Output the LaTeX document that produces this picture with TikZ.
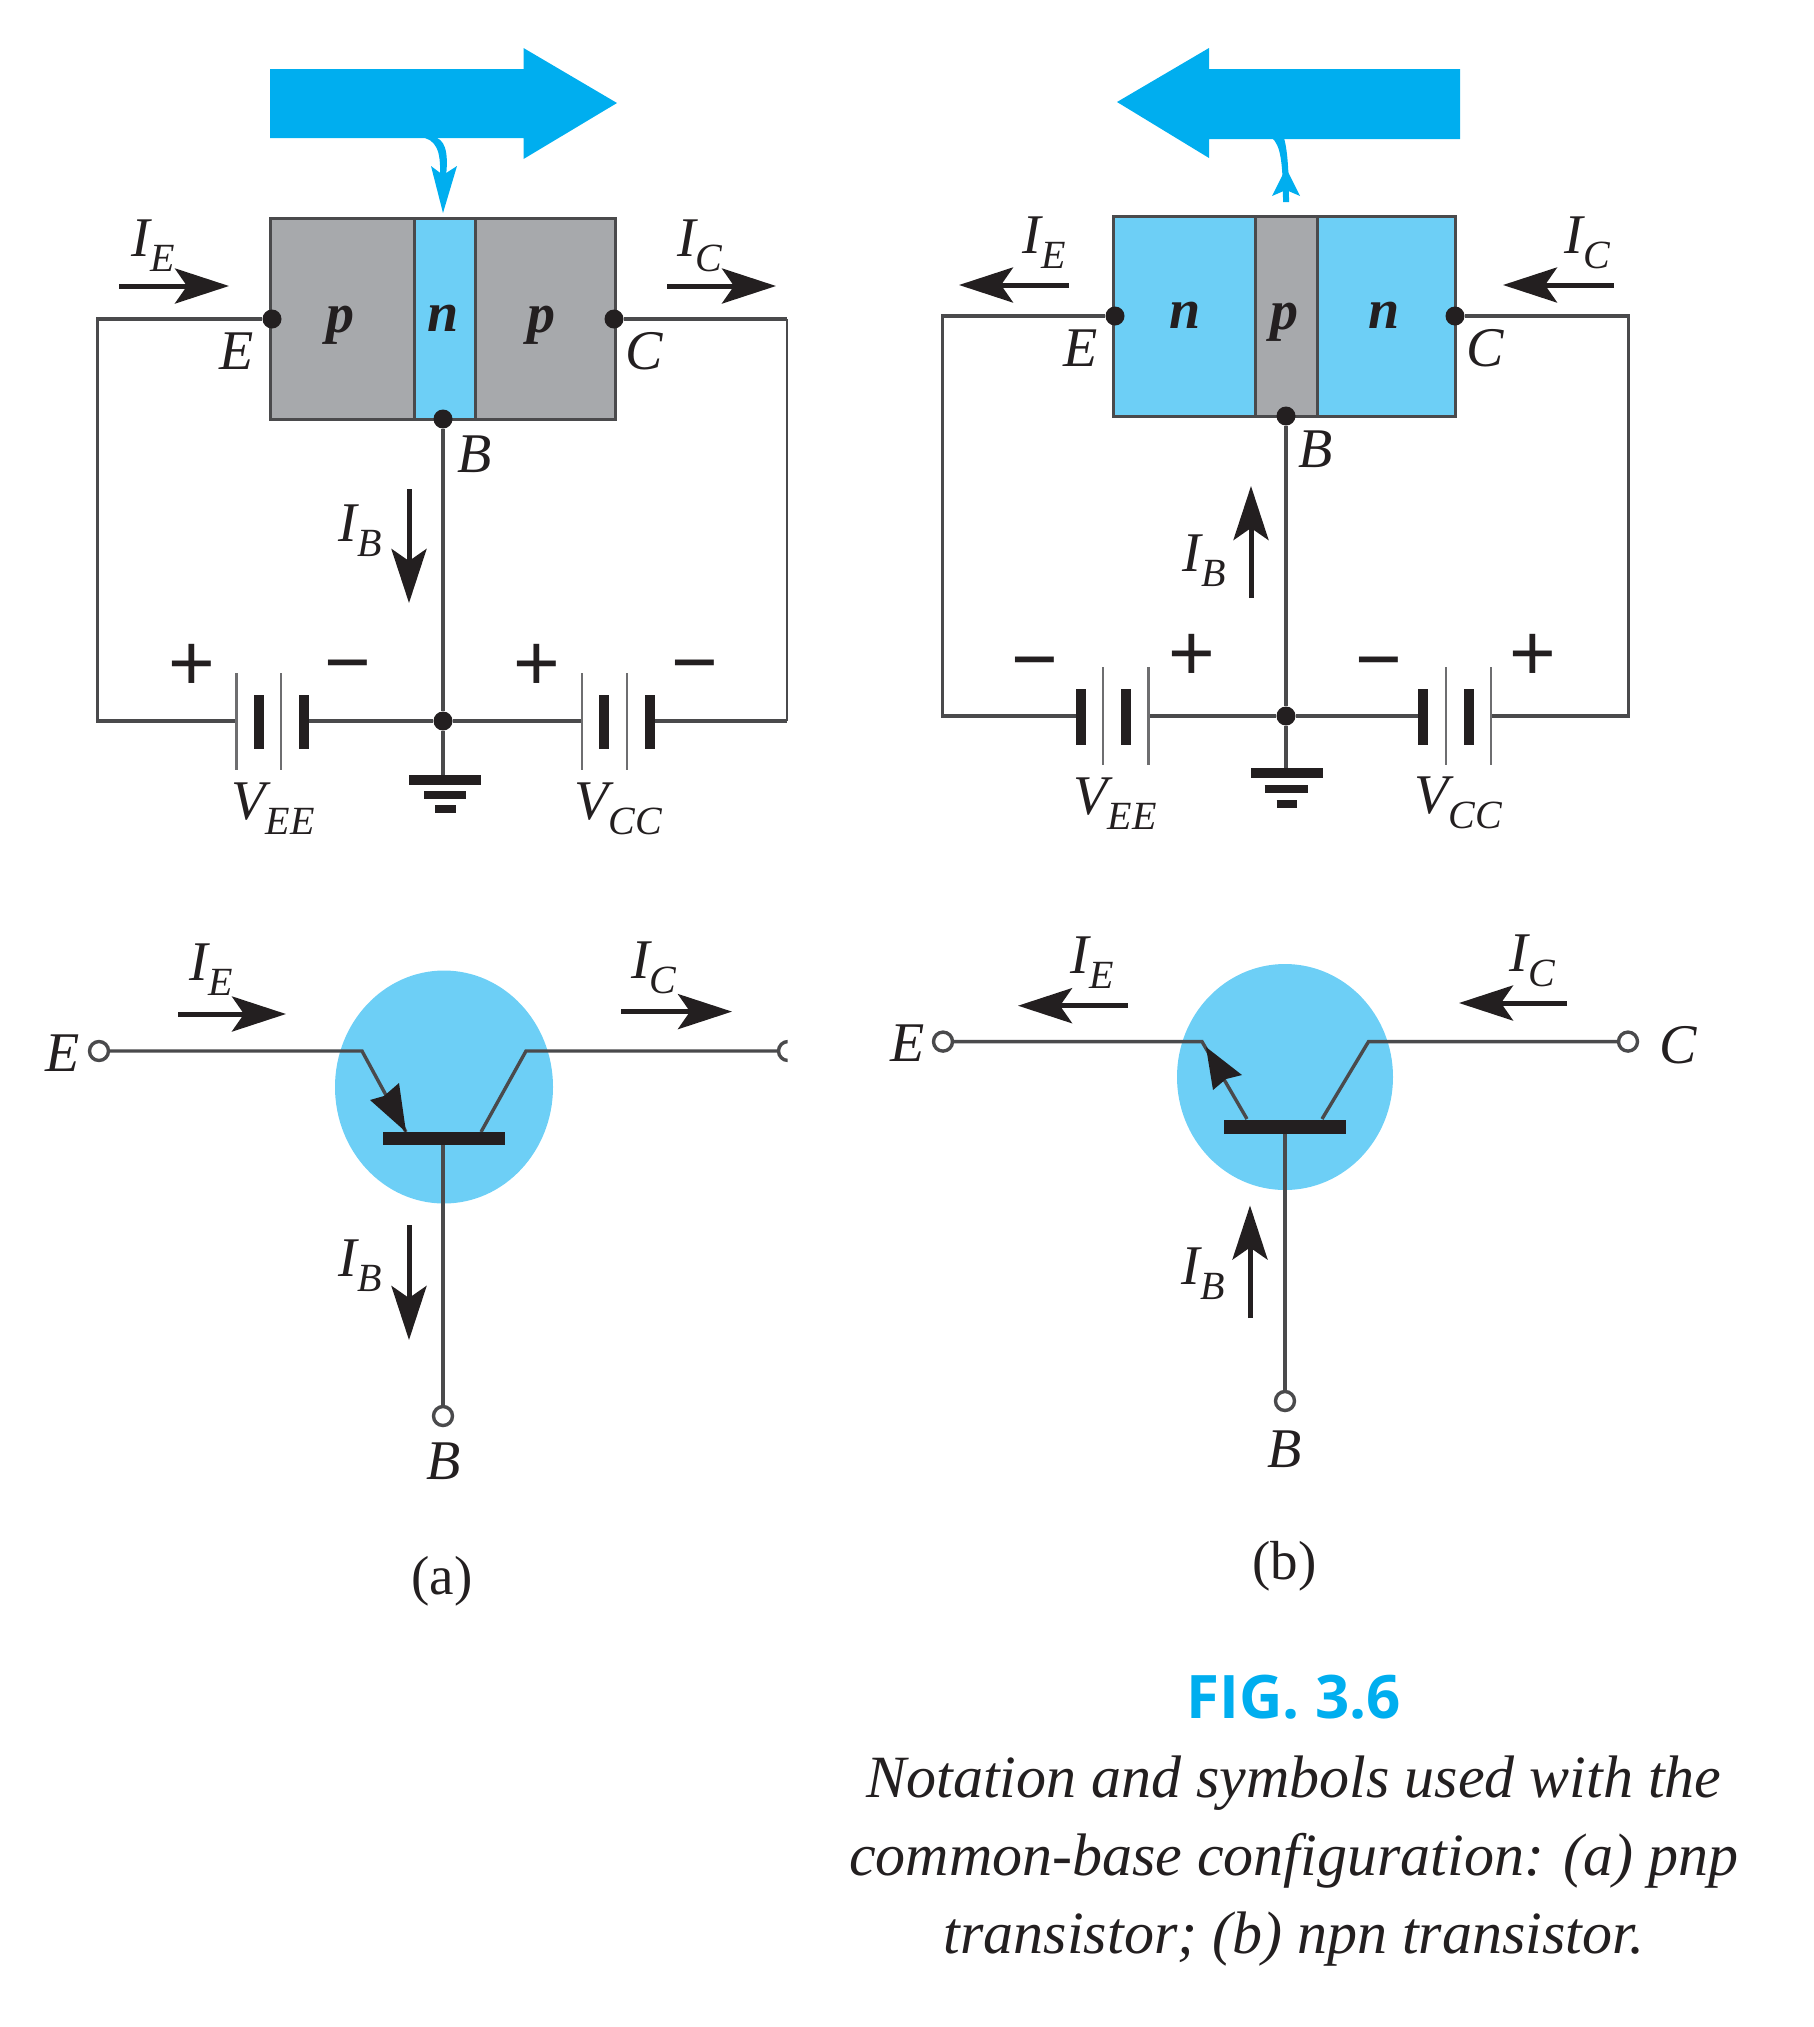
\documentclass[tikz,border=0pt]{standalone}
\usepackage{fontspec}
\setmainfont{Liberation Serif}
\newfontfamily\symfont{Liberation Sans}
\newfontfamily\figfont{Open Sans}
\usetikzlibrary{arrows.meta}
\definecolor{cyandark}{HTML}{00AEEF}
\definecolor{cyanlight}{HTML}{6DCFF6}
\definecolor{semigray}{HTML}{A7A9AC}
\definecolor{ink}{HTML}{231F20}
\definecolor{wirec}{HTML}{4A4A4C}
\newcommand\mainsz{\fontsize{56}{56}\selectfont\itshape}
\newcommand\subsz{\fontsize{40}{40}\selectfont\itshape}
\newcommand\cur[2]{{\mainsz #1\raisebox{-0.27em}{\subsz #2}}}
\tikzset{
  wire/.style={draw=wirec,line width=3.4pt,line join=miter},
  thinplate/.style={draw=wirec!80,line width=2.6pt},
  thickplate/.style={draw=ink,line width=10pt},
  curarrow/.style={draw=ink,line width=5pt,-{Stealth[length=54pt,width=35pt,inset=12pt]}},
  lab/.style={inner sep=0pt,text=ink,font=\mainsz},
  captxt/.style={inner sep=0pt,text=ink},
  dotn/.style={circle,fill=ink,inner sep=0pt,minimum size=19pt},
  term/.style={circle,draw=wirec,line width=3.4pt,fill=white,inner sep=0pt,minimum size=19pt},
  sgn/.style={inner sep=0pt,anchor=base,text=ink,font=\symfont\fontsize{80}{80}\selectfont},
  reg/.style={inner sep=0pt,text=ink,font=\bfseries\itshape\fontsize{56}{56}\selectfont},
  semi/.style={draw=wirec,line width=3pt},
  gnda/.style={draw=ink,line width=9.5pt},
  gndb/.style={draw=ink,line width=8pt},
}
\begin{document}
\begin{tikzpicture}[x=1pt,y=-1pt]
\useasboundingbox (0,0) rectangle (1813,2027);
% ---------- panel (a), top
\fill[cyandark] (270,69) -- (523.5,69) -- (523.5,48) -- (617,103) -- (523.5,159) -- (523.5,138) -- (270,138) -- cycle;
\fill[cyandark] (420,137) .. controls (436,139) and (441,150) .. (440,176) -- (446,176) .. controls (449,150) and (444,139) .. (434,137) -- cycle;
\fill[cyandark] (443,213) -- (431,166) -- (443,175) -- (457,166) -- cycle;
\draw[semi,fill=semigray] (270,218) rectangle (615,419);
\draw[semi,fill=cyanlight] (414.5,218) rectangle (475,419);
\node[reg] (apl) at (340,325) {p};
\node[reg] (an)  at (443,318) {n};
\node[reg] (apr) at (541,325) {p};
\node[dotn] (aE) at (272,319) {};
\node[dotn] (aC) at (614,319) {};
\node[dotn] (aB) at (443,419) {};
\node[dotn] (aJ) at (443,721) {};
\coordinate (aTL) at (97.6,319);
\coordinate (aBL) at (97.6,721);
\coordinate (aTR) at (787,319);
\coordinate (aBR) at (787,721);
\coordinate (aV1) at (236.5,721);
\coordinate (aV2) at (304,721);
\coordinate (aV3) at (582,721);
\coordinate (aV4) at (650,721);
\coordinate (aG) at (443,780);
\draw[wire] (aE) -- (aTL) -- (aBL) -- (aV1);
\draw[wire] (aV2) -- (aJ) -- (aV3);
\draw[wire] (aB) -- (aJ) -- (aG);
\draw[wire] (aC) -- (aTR);
\draw[wire] (aV4) -- (aBR);
\draw[draw=wirec,line width=2pt] (aTR) -- (aBR);
\foreach \x in {236.5,281,582,627} \draw[thinplate] (\x,673) -- (\x,770);
\foreach \x in {259,304,604,650} \draw[thickplate] (\x,695) -- (\x,749);
\draw[gnda] (409,780) -- (481,780);
\draw[gndb] (424,794.5) -- (466,794.5);
\draw[gndb] (435,809) -- (456,809);
\node[sgn] (ap) at (192,690) {+};
\node[sgn] (am) at (348,689) {−};
\node[sgn] (bp) at (537,690) {+};
\node[sgn] (bm) at (695,689) {−};
\node[lab] (aVEE) at (273,809) {\cur{V}{EE}};
\node[lab] (aVCC) at (618,809) {\cur{V}{CC}};
\node[lab] (aEl) at (237,351) {E};
\node[lab] (aCl) at (644,351) {C};
\node[lab] (aBl) at (475,454) {B};
\node[lab] (aIE) at (153,246) {\cur{I}{E}};
\node[lab] (aIC) at (700,246) {\cur{I}{C}};
\node[lab] (aIB) at (360,531) {\cur{I}{B}};
\coordinate (aie1) at (119,286); \coordinate (aie2) at (229,286);
\coordinate (aic1) at (667,286); \coordinate (aic2) at (776,286);
\coordinate (aib1) at (409,489); \coordinate (aib2) at (409,603);
\draw[curarrow] (aie1) -- (aie2);
\draw[curarrow] (aic1) -- (aic2);
\draw[curarrow] (aib1) -- (aib2);
% ---------- panel (b), top
\fill[cyandark] (1460,69) -- (1209,69) -- (1209,48) -- (1117,102) -- (1209,158) -- (1209,139) -- (1460,139) -- cycle;
\fill[cyandark] (1272,138) .. controls (1280,145) and (1283,160) .. (1283,202) -- (1289,202) .. controls (1289,160) and (1286,145) .. (1284,138) -- cycle;
\fill[cyandark] (1286,168) -- (1272,196) -- (1286,190) -- (1300,196) -- cycle;
\draw[semi,fill=cyanlight] (1113.5,216) rectangle (1455.6,416);
\draw[semi,fill=semigray] (1255,216) rectangle (1317,416);
\node[reg] (bnl) at (1185,315) {n};
\node[reg] (bp1) at (1284.5,322) {p};
\node[reg] (bnr) at (1384,315) {n};
\node[dotn] (bE) at (1115,316) {};
\node[dotn] (bC) at (1455,316) {};
\node[dotn] (bB) at (1286,416) {};
\node[dotn] (bJ) at (1286,716) {};
\coordinate (bTL) at (942.4,316);
\coordinate (bBL) at (942.4,716);
\coordinate (bTR) at (1628.4,316);
\coordinate (bBR) at (1628.4,716);
\coordinate (bV1) at (1081,716);
\coordinate (bV2) at (1148.5,716);
\coordinate (bV3) at (1423,716);
\coordinate (bV4) at (1491,716);
\coordinate (bG) at (1286,773);
\draw[wire] (bE) -- (bTL) -- (bBL) -- (bV1);
\draw[wire] (bV2) -- (bJ) -- (bV3);
\draw[wire] (bB) -- (bJ) -- (bG);
\draw[wire] (bC) -- (bTR) -- (bBR) -- (bV4);
\foreach \x in {1103,1148.5,1446,1491} \draw[thinplate] (\x,667) -- (\x,765);
\foreach \x in {1081,1126,1423,1469} \draw[thickplate] (\x,689) -- (\x,745);
\draw[gnda] (1251,773) -- (1323,773);
\draw[gndb] (1264.5,789) -- (1308,789);
\draw[gndb] (1276.5,804) -- (1296.6,804);
\node[sgn] (cm) at (1035,686) {−};
\node[sgn] (cp) at (1191.6,680) {+};
\node[sgn] (dm) at (1379,686) {−};
\node[sgn] (dp) at (1533,680) {+};
\node[lab] (bVEE) at (1115,804) {\cur{V}{EE}};
\node[lab] (bVCC) at (1458,803) {\cur{V}{CC}};
\node[lab] (bEl) at (1081,348) {E};
\node[lab] (bCl) at (1485,348) {C};
\node[lab] (bBl) at (1316,449) {B};
\node[lab] (bIE) at (1044,243) {\cur{I}{E}};
\node[lab] (bIC) at (1587,243) {\cur{I}{C}};
\node[lab] (bIB) at (1204,561) {\cur{I}{B}};
\coordinate (bie1) at (1069,285); \coordinate (bie2) at (959,285);
\coordinate (bic1) at (1613.5,285); \coordinate (bic2) at (1503,285);
\coordinate (bib1) at (1251,598); \coordinate (bib2) at (1251,486);
\draw[curarrow] (bie1) -- (bie2);
\draw[curarrow] (bic1) -- (bic2);
\draw[curarrow] (bib1) -- (bib2);
% ---------- panel (a), symbol
\fill[cyanlight] (444,1087) ellipse [x radius=109,y radius=116.5];
\coordinate (sE1) at (362,1051);
\coordinate (sE2) at (406,1132);
\coordinate (sC1) at (526,1051);
\coordinate (sC2) at (481,1132);
\coordinate (sB0) at (443,1138);
\coordinate (sCend) at (780,1051);
\node[term] (sE) at (99,1051) {};
\node[term] (sB) at (443,1416) {};
\draw[wire] (sE) -- (sE1) -- (sE2);
\draw[wire] (sC2) -- (sC1) -- (sCend);
\draw[wire] (sB0) -- (sB);
\begin{scope}
\clip (770,1030) rectangle (787.5,1070);
\node[term] (sC) at (788,1051) {};
\end{scope}
\fill[ink] (406,1132) -- (370,1100) -- (384,1096) -- (399,1083) -- cycle;
\fill[ink] (383,1132) rectangle (505,1145);
\node[lab] (sEl) at (63,1053) {E};
\node[lab] (sBl) at (444,1461) {B};
\node[lab] (sIE) at (211,970) {\cur{I}{E}};
\node[lab] (sIC) at (654,968) {\cur{I}{C}};
\node[lab] (sIB) at (360,1266) {\cur{I}{B}};
\coordinate (sie1) at (178,1014); \coordinate (sie2) at (286,1014);
\coordinate (sic1) at (621,1011.6); \coordinate (sic2) at (732,1011.6);
\coordinate (sib1) at (409,1225); \coordinate (sib2) at (409,1340);
\draw[curarrow] (sie1) -- (sie2);
\draw[curarrow] (sic1) -- (sic2);
\draw[curarrow] (sib1) -- (sib2);
\node[captxt,font=\fontsize{55}{55}\selectfont] (capa) at (442,1581) {(a)};
% ---------- panel (b), symbol
\fill[cyanlight] (1285,1077) ellipse [x radius=108,y radius=113];
\coordinate (tE1) at (1202,1041.6);
\coordinate (tE2) at (1247,1119);
\coordinate (tC1) at (1368.5,1041.6);
\coordinate (tC2) at (1322,1119);
\coordinate (tB0) at (1285,1127);
\node[term] (tE) at (943,1041.6) {};
\node[term] (tC) at (1628,1041.6) {};
\node[term] (tB) at (1285,1401) {};
\draw[wire] (tE) -- (tE1) -- (tE2);
\draw[wire] (tC2) -- (tC1) -- (tC);
\draw[wire] (tB0) -- (tB);
\fill[ink] (1206,1047) -- (1213,1090) -- (1226,1079) -- (1242,1075) -- cycle;
\fill[ink] (1224.4,1120) rectangle (1346,1134);
\node[lab] (tEl) at (908,1043) {E};
\node[lab] (tCl) at (1678.5,1045) {C};
\node[lab] (tBl) at (1285,1449) {B};
\node[lab] (tIE) at (1092,963) {\cur{I}{E}};
\node[lab] (tIC) at (1532,961) {\cur{I}{C}};
\node[lab] (tIB) at (1203,1274) {\cur{I}{B}};
\coordinate (tie1) at (1127.5,1005.7); \coordinate (tie2) at (1018,1005.7);
\coordinate (tic1) at (1567,1003); \coordinate (tic2) at (1459,1003);
\coordinate (tib1) at (1250,1318); \coordinate (tib2) at (1250,1205.5);
\draw[curarrow] (tie1) -- (tie2);
\draw[curarrow] (tic1) -- (tic2);
\draw[curarrow] (tib1) -- (tib2);
\node[captxt,font=\fontsize{55}{55}\selectfont] (capb) at (1284.5,1566) {(b)};
% ---------- caption
\node[inner sep=0pt,text=cyandark,font=\figfont\bfseries\fontsize{60}{60}\selectfont] (fig) at (1294,1697) {FIG. 3.6};
\node[captxt,align=center,font=\itshape\fontsize{60}{78}\selectfont] (caption) at (1294,1861)
  {Notation and symbols used with the\\common-base configuration: (a) pnp\\transistor; (b) npn transistor.};
\end{tikzpicture}
\end{document}
